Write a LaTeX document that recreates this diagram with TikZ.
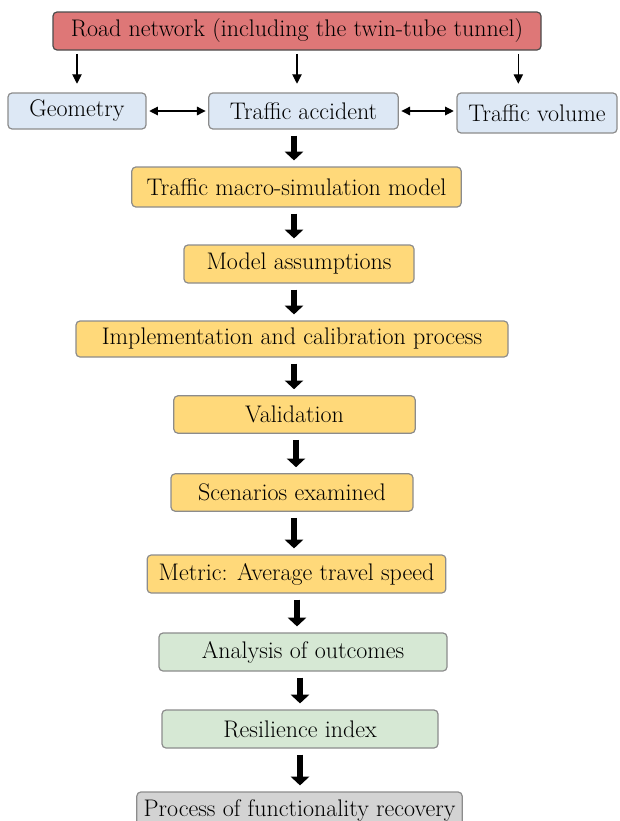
\documentclass[tikz,border=0pt]{standalone}
\usetikzlibrary{arrows.meta}
\definecolor{roadred}{RGB}{222,119,119}
\definecolor{infoblue}{RGB}{221,232,245}
\definecolor{stepyellow}{RGB}{255,217,122}
\definecolor{resultgreen}{RGB}{214,232,212}
\definecolor{recovgrey}{RGB}{211,211,211}
\begin{document}
\begin{tikzpicture}[x=0.75pt, y=-0.75pt,
every node/.style={font=\fontsize{18}{21}\selectfont},
box/.style={rectangle, rounded corners=3pt, draw=black!45, line width=0.9pt, inner sep=0pt},
redbox/.style={box, draw=black!70, fill=roadred},
bluebox/.style={box, fill=infoblue},
yellowbox/.style={box, fill=stepyellow},
greenbox/.style={box, fill=resultgreen},
greybox/.style={box, fill=recovgrey},
thin/.style={line width=0.8pt, -{Triangle[length=7pt,width=7pt]}},
both/.style={line width=0.8pt, {Triangle[length=6.5pt,width=6.5pt]}-{Triangle[length=6.5pt,width=6.5pt]}, shorten >=2pt, shorten <=2pt},
thick/.style={line width=3.8pt, -{Triangle[length=6.5pt,width=13.5pt]}, shorten >=4.5pt, shorten <=4.5pt},
]
\useasboundingbox (0,0) rectangle (619,821);
%Nodes
\node[redbox, minimum width=366pt, minimum height=28.5pt]    (road)     at (297,31)  {Road network (including the twin-tube tunnel)};
\node[bluebox, minimum width=103.5pt, minimum height=27pt]   (geom)     at (77,111)  {Geometry};
\node[bluebox, minimum width=142pt, minimum height=27pt]     (accident) at (303.5,111) {Traffic accident};
\node[bluebox, minimum width=120pt, minimum height=30pt]     (volume)   at (537,113) {Traffic volume};
\node[yellowbox, minimum width=247pt, minimum height=30pt]   (macro)    at (296.5,187) {Traffic macro-simulation model};
\node[yellowbox, minimum width=172.5pt, minimum height=28.5pt] (assume) at (299,264) {Model assumptions};
\node[yellowbox, minimum width=324pt, minimum height=27pt]   (impl)     at (292,339) {Implementation and calibration process};
\node[yellowbox, minimum width=181pt, minimum height=28pt]   (valid)    at (294.5,414.5) {Validation};
\node[yellowbox, minimum width=181.5pt, minimum height=28pt] (scen)     at (292,492.5) {Scenarios examined};
\node[yellowbox, minimum width=224pt, minimum height=28.5pt] (metric)   at (296.5,574) {Metric: Average travel speed};
\node[greenbox, minimum width=216pt, minimum height=28.5pt]  (anal)     at (303,652) {Analysis of outcomes};
\node[greenbox, minimum width=207pt, minimum height=28.5pt]  (resil)    at (300,729) {Resilience index};
\node[greybox, minimum width=244pt, minimum height=28.5pt]   (recov)    at (299.5,811) {Process of functionality recovery};

%Lines
\draw[thin, shorten <=2.5pt, shorten >=6.5pt] (road.south -| geom.north) -- (geom.north);
\draw[thin, shorten <=2.5pt, shorten >=6.5pt] (road.south) -- (road.south |- accident.north);
\draw[thin, shorten <=2.5pt, shorten >=6.5pt] ([xshift=-14pt]road.south -| volume.north) -- ([xshift=-14pt]volume.north);
\draw[both] (geom.east) -- (accident.west);
\draw[both] (accident.east) -- (volume.west |- accident.east);
\draw[thick] (accident.south -| 294,0) -- (macro.north -| 294,0);
\draw[thick] (macro.south -| 294,0) -- (assume.north -| 294,0);
\draw[thick] (assume.south -| 294,0) -- (impl.north -| 294,0);
\draw[thick] (impl.south -| 294,0) -- (valid.north -| 294,0);
\draw[thick] (valid.south -| 296,0) -- (scen.north -| 296,0);
\draw[thick] (scen.south -| 294,0) -- (metric.north -| 294,0);
\draw[thick] (metric.south -| 297,0) -- (anal.north -| 297,0);
\draw[thick] (anal.south -| 300,0) -- (resil.north -| 300,0);
\draw[thick] (resil.south -| 300,0) -- (recov.north -| 300,0);
\end{tikzpicture}
\end{document}
